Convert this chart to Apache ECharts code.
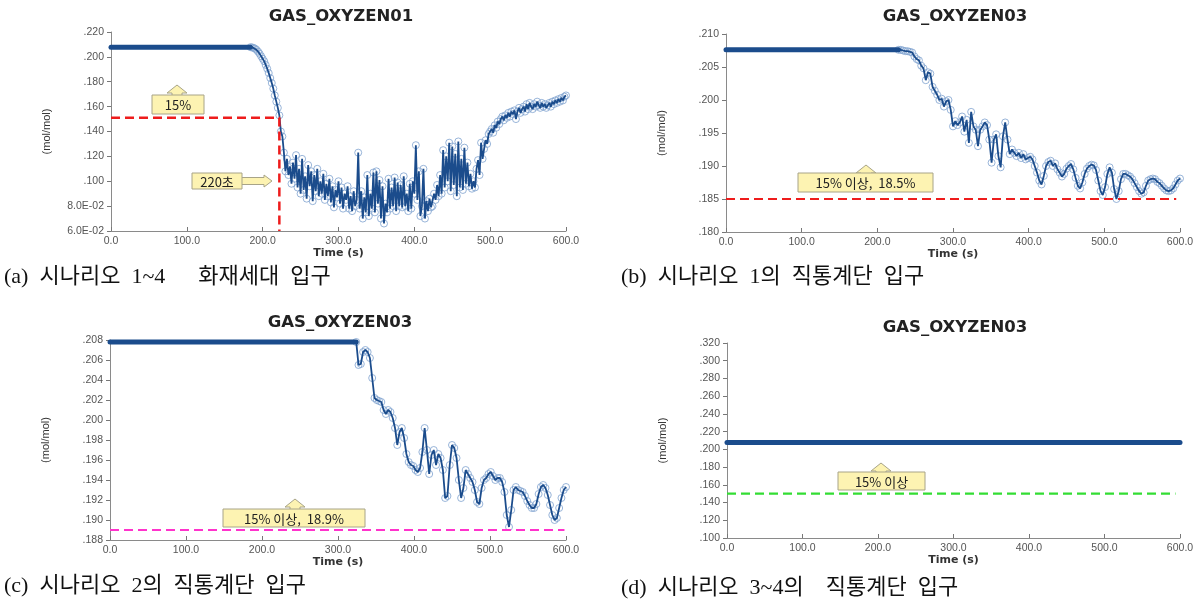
<!DOCTYPE html>
<html><head><meta charset="utf-8">
<script src="https://cdn.jsdelivr.net/npm/echarts@6/dist/echarts.min.js"></script>
<style>html,body{margin:0;padding:0;background:#fff}#c{width:1199px;height:602px}</style>
</head><body><div id="c"></div>
<script>
// ---------------- DATA ----------------
const titles = ['GAS_OXYZEN01', 'GAS_OXYZEN03', 'GAS_OXYZEN03', 'GAS_OXYZEN03'];
const captions = [
  '(a)  시나리오  1~4      화재세대  입구',
  '(b)  시나리오  1의  직통계단  입구',
  '(c)  시나리오  2의  직통계단  입구',
  '(d)  시나리오  3~4의    직통계단  입구'
];
const xTicks = [0, 100, 200, 300, 400, 500, 600];
const xTickLabels = ['0.0', '100.0', '200.0', '300.0', '400.0', '500.0', '600.0'];

const yTicksA = [0.06, 0.08, 0.10, 0.12, 0.14, 0.16, 0.18, 0.20, 0.22];
const yLabelsA = ['6.0E-02', '8.0E-02', '.100', '.120', '.140', '.160', '.180', '.200', '.220'];
const yTicksB = [0.180, 0.185, 0.190, 0.195, 0.200, 0.205, 0.210];
const yLabelsB = ['.180', '.185', '.190', '.195', '.200', '.205', '.210'];
const yTicksC = [0.188, 0.190, 0.192, 0.194, 0.196, 0.198, 0.200, 0.202, 0.204, 0.206, 0.208];
const yLabelsC = ['.188', '.190', '.192', '.194', '.196', '.198', '.200', '.202', '.204', '.206', '.208'];
const yTicksD = [0.10, 0.12, 0.14, 0.16, 0.18, 0.20, 0.22, 0.24, 0.26, 0.28, 0.30, 0.32];
const yLabelsD = ['.100', '.120', '.140', '.160', '.180', '.200', '.220', '.240', '.260', '.280', '.300', '.320'];

// (a) steady value until flatEnd, then samples every step seconds
const flatA = 0.2078, flatEndA = 184, stepA = 2;
const curveA = [
  0.2078, 0.2076, 0.2072, 0.2066, 0.2056, 0.2042, 0.2025, 0.2005, 0.1985, 0.1965,
  0.1935, 0.1905, 0.1870, 0.1830, 0.1790, 0.1745, 0.1690, 0.1640, 0.1590, 0.1530,
  0.1400, 0.1360, 0.1230, 0.1080, 0.1180, 0.1050, 0.1120, 0.0980, 0.1150, 0.1020,
  0.1210, 0.0950, 0.1100, 0.0900, 0.1180, 0.0930, 0.1040, 0.0860, 0.1130, 0.0960,
  0.1080, 0.0840, 0.1050, 0.0920, 0.1100, 0.0880, 0.1000, 0.0900, 0.1060, 0.0850,
  0.0980, 0.0880, 0.1020, 0.0830, 0.0960, 0.0790, 0.0930, 0.0870, 0.1000, 0.0820,
  0.0950, 0.0780, 0.0900, 0.0850, 0.0960, 0.0780, 0.0880, 0.0760, 0.0920, 0.0800,
  0.0850, 0.1230, 0.0780, 0.0920, 0.0700, 0.0870, 0.0750, 0.1050, 0.0720, 0.0900,
  0.0780, 0.1070, 0.0750, 0.1080, 0.0820, 0.1010, 0.0700, 0.0960, 0.0660, 0.0820,
  0.0750, 0.1020, 0.0780, 0.0950, 0.0800, 0.1030, 0.0760, 0.0990, 0.0800, 0.0970,
  0.0790, 0.1040, 0.0800, 0.0900, 0.0760, 0.0980, 0.0780, 0.1000, 0.0900, 0.1290,
  0.0850, 0.1080, 0.0720, 0.0800, 0.1100, 0.0700, 0.0840, 0.0760, 0.0860, 0.0790,
  0.0800, 0.0900, 0.0850, 0.0970, 0.0880, 0.1050, 0.0900, 0.1250, 0.0950, 0.1200,
  0.1000, 0.1310, 0.0920, 0.1280, 0.0970, 0.1220, 0.0880, 0.1320, 0.0950, 0.1180,
  0.0930, 0.1270, 0.0980, 0.1150, 0.0960, 0.1060, 0.0940, 0.1000, 0.0950, 0.1100,
  0.1170, 0.1050, 0.1310, 0.1180, 0.1260, 0.1330, 0.1300, 0.1380, 0.1400, 0.1420,
  0.1390, 0.1450, 0.1430, 0.1480, 0.1460, 0.1500, 0.1520, 0.1490, 0.1530, 0.1510,
  0.1550, 0.1520, 0.1560, 0.1540, 0.1570, 0.1500, 0.1560, 0.1590, 0.1550, 0.1580,
  0.1600, 0.1560, 0.1620, 0.1580, 0.1630, 0.1600, 0.1580, 0.1620, 0.1600, 0.1640,
  0.1610, 0.1590, 0.1630, 0.1600, 0.1620, 0.1590, 0.1610, 0.1630, 0.1600, 0.1640,
  0.1620, 0.1650, 0.1630, 0.1660, 0.1640, 0.1670, 0.1650, 0.1680, 0.1690
];
const limitA = 0.151, crossTimeA = 222;

// (b)
const flatB = 0.2076, flatEndB = 228, stepB = 3;
const curveB = [
  0.2076, 0.2076, 0.2075, 0.2074, 0.2074, 0.2073, 0.2072,
  0.2066, 0.2062, 0.2060, 0.2052, 0.2048, 0.2030, 0.2042, 0.2040, 0.2020, 0.2014,
  0.2008, 0.2000, 0.2002, 0.1990, 0.1998, 0.2000, 0.1985, 0.1960, 0.1968, 0.1962,
  0.1966, 0.1975, 0.1952, 0.1970, 0.1935, 0.1982, 0.1960, 0.1955, 0.1930, 0.1955,
  0.1960, 0.1966, 0.1962, 0.1940, 0.1905, 0.1940, 0.1948, 0.1915, 0.1898, 0.1945,
  0.1966, 0.1940, 0.1918, 0.1925, 0.1920, 0.1915, 0.1920, 0.1912, 0.1918, 0.1910,
  0.1912, 0.1914, 0.1910, 0.1900, 0.1890, 0.1878, 0.1872, 0.1885, 0.1900, 0.1906,
  0.1908, 0.1900, 0.1904, 0.1895, 0.1890, 0.1884, 0.1888, 0.1896, 0.1900, 0.1903,
  0.1895, 0.1882, 0.1870, 0.1866, 0.1875, 0.1888, 0.1896, 0.1900, 0.1902, 0.1901,
  0.1894, 0.1878, 0.1862, 0.1856, 0.1868, 0.1888, 0.1898, 0.1890, 0.1865, 0.1850,
  0.1862, 0.1880, 0.1888, 0.1888, 0.1886, 0.1884, 0.1880, 0.1874, 0.1868, 0.1862,
  0.1858, 0.1860, 0.1870, 0.1878, 0.1880, 0.1881, 0.1880, 0.1876, 0.1874, 0.1870,
  0.1866, 0.1863, 0.1862, 0.1863, 0.1866, 0.1872, 0.1878, 0.1881
];
const limitB = 0.185, limitEndB = 595;

// (c)
const flatC = 0.2078, flatEndC = 324, stepC = 3;
const curveC = [
  0.2078, 0.2055, 0.2056, 0.2068, 0.2070, 0.2068, 0.2062, 0.2042, 0.2022, 0.2020,
  0.2019, 0.2018, 0.2010, 0.2006, 0.2010, 0.2008, 0.2002, 0.1992, 0.1975, 0.1988,
  0.1992, 0.1982, 0.1966, 0.1958, 0.1955, 0.1954, 0.1950, 0.1948, 0.1952, 0.1968,
  0.1992, 0.1970, 0.1946, 0.1965, 0.1970, 0.1955, 0.1966, 0.1962, 0.1950, 0.1922,
  0.1924, 0.1955, 0.1975, 0.1972, 0.1962, 0.1940, 0.1922, 0.1932, 0.1950, 0.1946,
  0.1942, 0.1938, 0.1930, 0.1918, 0.1916, 0.1932, 0.1940, 0.1942, 0.1946, 0.1948,
  0.1944, 0.1940, 0.1942, 0.1942, 0.1938, 0.1928, 0.1905, 0.1893, 0.1910, 0.1930,
  0.1933, 0.1930, 0.1929, 0.1928, 0.1924, 0.1919, 0.1915, 0.1912, 0.1912, 0.1916,
  0.1926, 0.1933, 0.1935, 0.1932, 0.1925, 0.1915, 0.1905, 0.1900, 0.1902, 0.1912,
  0.1922, 0.1930, 0.1933
];
const limitC = 0.189, limitEndC = 598;

// (d)
const flatD = 0.2078, flatEndD = 600;
const limitD = 0.150, limitEndD = 594;

// ---------------- LAYOUT / STYLE ----------------
const grids = [
  {left: 111, top: 32, width: 455, height: 199},
  {left: 726, top: 34, width: 454, height: 198},
  {left: 110, top: 340, width: 456, height: 200},
  {left: 727, top: 343, width: 453, height: 195}
];
const yTickSets = [[yTicksA, yLabelsA], [yTicksB, yLabelsB], [yTicksC, yLabelsC], [yTicksD, yLabelsD]];
const LINE_COLOR = '#1b4c8c';
const MARK_BORDER = '#7fa3cf';
const AX_FONT = '"Liberation Sans", Arial, sans-serif';
const BOLD_FONT = '"DejaVu Sans", sans-serif';
const KR_FONT = '"Noto Sans CJK KR", sans-serif';
const CAP_FONT = '"Liberation Serif", "Noto Sans CJK KR", serif';

function fmtY(ticks, labels) {
  const step = ticks[1] - ticks[0];
  return v => {
    const i = Math.round((v - ticks[0]) / step);
    return labels[i] !== undefined ? labels[i] : '';
  };
}

const xAxes = grids.map((g, i) => ({
  type: 'value', gridIndex: i,
  min: xTicks[0], max: xTicks[xTicks.length - 1], interval: xTicks[1] - xTicks[0],
  name: 'Time (s)', nameLocation: 'middle', nameGap: 13,
  nameTextStyle: {fontFamily: BOLD_FONT, fontWeight: 'bold', fontSize: 11, color: '#333'},
  axisLine: {lineStyle: {color: '#8a8a8a', width: 1}},
  axisTick: {inside: true, length: 4, lineStyle: {color: '#777'}},
  axisLabel: {margin: 5, fontFamily: AX_FONT, fontSize: 10.5, color: '#555',
    formatter: v => xTickLabels[xTicks.indexOf(v)] || ''},
  splitLine: {show: false}
}));

const yAxes = grids.map((g, i) => {
  const [ticks, labels] = yTickSets[i];
  return {
    type: 'value', gridIndex: i,
    min: ticks[0], max: ticks[ticks.length - 1], interval: ticks[1] - ticks[0],
    name: '(mol/mol)', nameLocation: 'middle', nameGap: 59, nameRotate: 90,
    nameTextStyle: {fontFamily: AX_FONT, fontSize: 11, color: '#333'},
    axisLine: {show: true, lineStyle: {color: '#8a8a8a', width: 1}},
    axisTick: {show: true, inside: false, length: 4, lineStyle: {color: '#777'}},
    axisLabel: {margin: 7, fontFamily: AX_FONT, fontSize: 10.5, color: '#555', formatter: fmtY(ticks, labels)},
    splitLine: {show: false}
  };
});

function flatSeries(idx, value, end) {
  return {type: 'line', xAxisIndex: idx, yAxisIndex: idx, data: [[0, value], [end, value]],
    showSymbol: false, silent: true, z: 4,
    lineStyle: {color: LINE_COLOR, width: 5, cap: 'round'}};
}
function curveSeries(idx, start, step, values) {
  const pts = values.map((v, k) => [start + k * step, v]);
  return [
    {type: 'scatter', xAxisIndex: idx, yAxisIndex: idx, data: pts, symbol: 'circle', symbolSize: 7, z: 3,
      silent: true, itemStyle: {color: 'rgba(255,255,255,0)', borderColor: MARK_BORDER, borderWidth: 1}},
    {type: 'line', xAxisIndex: idx, yAxisIndex: idx, data: pts, showSymbol: false, z: 4, silent: true,
      lineStyle: {color: LINE_COLOR, width: 1.8}}
  ];
}
function limitSeries(idx, pts, color, width) {
  return {type: 'line', xAxisIndex: idx, yAxisIndex: idx, data: pts, showSymbol: false, z: 5, silent: true,
    lineStyle: {color: color, width: width, type: [9, 5]}};
}

const series = [
  flatSeries(0, flatA, flatEndA),
  ...curveSeries(0, flatEndA, stepA, curveA),
  limitSeries(0, [[0, limitA], [crossTimeA, limitA], [crossTimeA, yTicksA[0]]], '#ee1c1c', 2.5),
  flatSeries(1, flatB, flatEndB),
  ...curveSeries(1, flatEndB, stepB, curveB),
  limitSeries(1, [[0, limitB], [limitEndB, limitB]], '#ee1c1c', 2.2),
  flatSeries(2, flatC, flatEndC),
  ...curveSeries(2, flatEndC, stepC, curveC),
  limitSeries(2, [[0, limitC], [limitEndC, limitC]], '#ff33cc', 2.2),
  flatSeries(3, flatD, flatEndD),
  limitSeries(3, [[0, limitD], [limitEndD, limitD]], '#33dd33', 2.2)
];

// ---------------- ANNOTATIONS ----------------
const BOX_FILL = '#fdf3b2', BOX_STROKE = '#a8a488';
function upArrow(cx, top, bottom) {
  return {type: 'polygon', z: 10, shape: {points: [[cx, top], [cx + 10, top + 8], [cx + 5, top + 8], [cx + 5, bottom],
    [cx - 5, bottom], [cx - 5, top + 8], [cx - 10, top + 8]]},
    style: {fill: BOX_FILL, stroke: BOX_STROKE, lineWidth: 1}};
}
function rightArrow(x0, x1, cy) {
  return {type: 'polygon', z: 10, shape: {points: [[x0, cy - 3.5], [x1 - 8, cy - 3.5], [x1 - 8, cy - 6], [x1, cy],
    [x1 - 8, cy + 6], [x1 - 8, cy + 3.5], [x0, cy + 3.5]]},
    style: {fill: BOX_FILL, stroke: BOX_STROKE, lineWidth: 1}};
}
function box(x, y, w, h, text) {
  return [
    {type: 'rect', z: 11, shape: {x: x, y: y, width: w, height: h}, style: {fill: BOX_FILL, stroke: BOX_STROKE, lineWidth: 1}},
    {type: 'text', z: 12, x: x + w / 2, y: y + h / 2 + 1,
      style: {text: text, font: '13px ' + KR_FONT, fill: '#222', align: 'center', verticalAlign: 'middle'}}
  ];
}
const graphics = [];
const titlePos = [[341, 17], [955, 17], [340, 323], [955, 328]];
titles.forEach((t, i) => graphics.push({type: 'text', x: titlePos[i][0], y: titlePos[i][1],
  style: {text: t, font: 'bold 16.5px ' + BOLD_FONT, fill: '#222', align: 'center', verticalAlign: 'middle'}}));
const capPos = [[4, 277], [621, 277], [4, 586], [621, 588]];
captions.forEach((t, i) => graphics.push({type: 'text', x: capPos[i][0], y: capPos[i][1],
  style: {text: t, font: '22px ' + CAP_FONT, fill: '#111', align: 'left', verticalAlign: 'middle'}}));

graphics.push(upArrow(177, 85, 96));
graphics.push(...box(152, 95, 52, 19, '15%'));
graphics.push(rightArrow(241, 272, 181));
graphics.push(...box(192, 173, 50, 16, '220초'));

graphics.push(upArrow(866, 165, 174));
graphics.push(...box(798, 173, 135, 19, '15% 이상,  18.5%'));

graphics.push(upArrow(295, 499, 510));
graphics.push(...box(223, 509, 142, 18, '15% 이상,  18.9%'));

graphics.push(upArrow(881, 463, 473));
graphics.push(...box(838, 472, 87, 18, '15% 이상'));

const chart = echarts.init(document.getElementById('c'), null, {renderer: 'canvas'});
chart.setOption({
  animation: false,
  backgroundColor: '#ffffff',
  grid: grids,
  xAxis: xAxes,
  yAxis: yAxes,
  series: series,
  graphic: graphics
});
</script>
</body></html>
